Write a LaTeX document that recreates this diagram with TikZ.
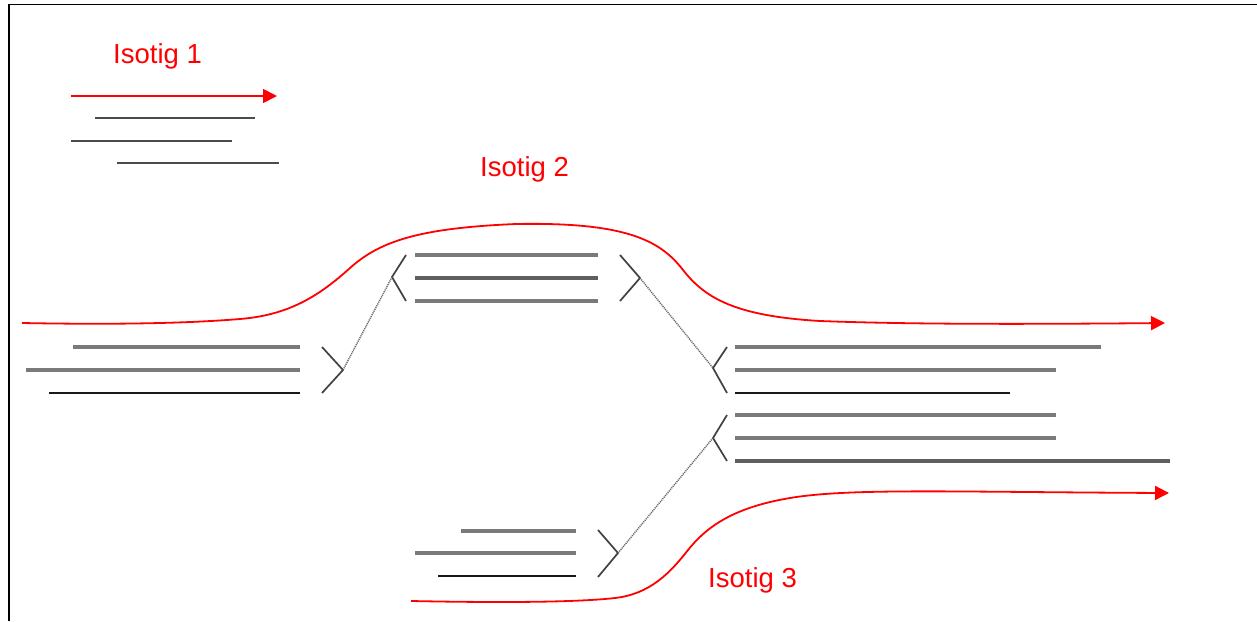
\documentclass[tikz,border=0pt]{standalone}
\usepackage{fontspec}
\setmainfont{Liberation Sans}
\usetikzlibrary{arrows.meta}
\definecolor{isored}{RGB}{255,0,0}
\definecolor{readgray}{RGB}{122,122,122}
\definecolor{readmid}{RGB}{95,95,95}
\definecolor{readdark}{RGB}{25,25,25}
\definecolor{chev}{RGB}{65,65,65}
\begin{document}
\begin{tikzpicture}[x=1pt,y=-1pt,
  read/.style={line width=3.1pt, draw=readgray},
  readm/.style={line width=3.1pt, draw=readmid},
  readk/.style={line width=2pt, draw=readdark},
  readtop/.style={line width=2.4pt, draw=readmid!80!black},
  chevron/.style={line width=1.7pt, draw=chev},
  link/.style={line width=1.4pt, draw=gray!80!black, dash pattern=on 1.1pt off 0.9pt},
  isotig/.style={line width=1.8pt, draw=isored},
  isoarrow/.style={isotig, -{Triangle[length=14pt,width=14pt]}},
  isolabel/.style={text=isored, font=\fontsize{27.5}{30}\selectfont, inner sep=0pt, anchor=base west}]
\useasboundingbox (0,0) rectangle (1257,621);
\fill[white] (0,0) rectangle (1257,621);
\draw[line width=1.6pt] (1257,4.5) -- (9,4.5) -- (9,621);

% Isotig 1
\node[isolabel] (iso1) at (113,63) {Isotig 1};
\draw[isoarrow] (71,96) -- (277,96);
\draw[readtop] (95,118) -- (255,118);
\draw[readtop] (71,141) -- (232,141);
\draw[readtop] (117,163) -- (279,163);

% Isotig 2 label and path
\node[isolabel] (iso2) at (480,176) {Isotig 2};
\draw[isoarrow] (22,323) .. controls (100,324.5) and (180,324) .. (240,319)
  .. controls (290,315) and (320,295) .. (350,268)
  .. controls (380,241) and (420,228) .. (516,224)
  .. controls (625,222) and (660,240) .. (683,270)
  .. controls (705,298) and (735,316) .. (820,321)
  .. controls (900,324) and (1000,324.5) .. (1165,323);

% Isotig 3 label and path
\node[isolabel] (iso3) at (708,587) {Isotig 3};
\draw[isoarrow] (411,601) .. controls (510,603) and (580,602) .. (615,598)
  .. controls (650,594) and (670,573) .. (688,550)
  .. controls (705,529) and (730,508) .. (790,498)
  .. controls (850,488) and (950,492) .. (1169,493);

% left group
\draw[read] (73,347) -- (300,347);
\draw[read] (26,370) -- (300,370);
\draw[readk] (49,393) -- (300,393);
\coordinate (cL) at (343,370);
\draw[chevron] (322,347) -- (cL) -- (322,393);

% middle group
\draw[read] (415,255) -- (598,255);
\draw[readm] (415,278) -- (598,278);
\draw[read] (415,301) -- (598,301);
\coordinate (cM1) at (392,277);
\coordinate (cM2) at (640,278);
\draw[chevron] (406,255) -- (cM1) -- (406,301);
\draw[chevron] (620,255) -- (cM2) -- (620,301);

% right group, upper
\draw[read] (735,347) -- (1101,347);
\draw[read] (735,370) -- (1056,370);
\draw[readk] (735,393) -- (1010,393);
\coordinate (cR1) at (713,368);
\draw[chevron] (727,347) -- (cR1) -- (727,393);

% right group, lower
\draw[read] (735,415) -- (1056,415);
\draw[read] (735,438) -- (1056,438);
\draw[readm] (735,461) -- (1170,461);
\coordinate (cR2) at (713,438);
\draw[chevron] (727,415) -- (cR2) -- (727,461);

% bottom group
\draw[read] (461,531) -- (576,531);
\draw[read] (415,553) -- (576,553);
\draw[readk] (438,576) -- (576,576);
\coordinate (cB) at (618,553);
\draw[chevron] (598,530) -- (cB) -- (598,577);

% dotted links
\draw[link] (cL) -- (cM1);
\draw[link] (cM2) -- (cR1);
\draw[link] (cB) -- (cR2);
\end{tikzpicture}
\end{document}
